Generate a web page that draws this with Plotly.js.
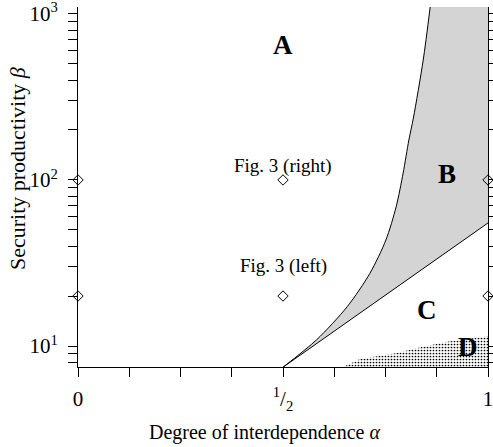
<!DOCTYPE html>
<html><head><meta charset="utf-8">
<script src="https://cdn.plot.ly/plotly-3.0.1.min.js"></script>
<style>html,body{margin:0;padding:0;background:#fff}#plot{width:493px;height:447px}</style>
</head><body><div id="plot"></div>
<script>
// Boundary A/B (upper curve)
const upperAlpha = [0.5, 0.582, 0.657, 0.712, 0.751, 0.776, 0.793, 0.807, 0.818, 0.842, 0.859];
const upperBeta  = [7.45, 10.9, 17.3, 27.4, 43.5, 69, 110, 174, 236, 528, 1101];
// Boundary B/C (lower line)
const lowerAlpha = [0.5, 0.75, 1];
const lowerBeta  = [7.45, 20.3, 55.1];
// Region D upper boundary
const dAlpha = [0.646, 0.688, 0.778, 0.827, 0.9, 0.98, 1];
const dBeta  = [7.47, 8.35, 9.07, 9.73, 10.6, 11.3, 11.5];
// Marked parameter points
const ptAlpha = [0, 0, 0.5, 0.5, 1, 1];
const ptBeta  = [20, 100, 20, 100, 20, 100];
// Region labels
const regionNames = ["A", "B", "C", "D"];
const regionAlpha = [0.5, 0.9, 0.851, 0.95];
const regionBeta  = [650, 108, 16.5, 9.86];
// Point annotations
const noteText  = ["Fig. 3 (right)", "Fig. 3 (left)"];
const noteAlpha = [0.5, 0.5];
const noteBeta  = [100, 20];
// Axis titles
const xTitle = "Degree of interdependence <i>α</i>";
const yTitle = "Security productivity <i>β</i>";
// Ticks
const xTickVals = [0, 0.125, 0.25, 0.375, 0.5, 0.625, 0.75, 0.875, 1];
const xTickText = ["0", "", "", "", "<sup>1</sup>/<sub>2</sub>", "", "", "", "1"];
const yMajor = [10, 100, 1000];
const yMajorText = ["10<sup>1</sup>", "10<sup>2</sup>", "10<sup>3</sup>"];

const yTickVals = [], yTickText = [];
[1, 10, 100].forEach(dec => {
  for (let m = 1; m <= 9; m++) {
    const v = dec * m;
    if (v < 7.5) continue;
    yTickVals.push(v);
    const k = yMajor.indexOf(v);
    yTickText.push(k >= 0 ? yMajorText[k] : "");
  }
});
yTickVals.push(1000); yTickText.push(yMajorText[2]);

const yTop = upperBeta[upperBeta.length - 1];
const yBottom = 7.0;
const serif = "Liberation Serif, serif";

const traces = [
  // hidden outline: lower line then up the right edge (used by the B fill)
  {x: lowerAlpha.concat([1]), y: lowerBeta.concat([yTop]),
   mode: "lines", line: {width: 0, color: "rgba(0,0,0,0)"}, hoverinfo: "skip"},
  // upper curve, filling region B against the outline
  {x: upperAlpha, y: upperBeta, mode: "lines", fill: "tonexty", fillcolor: "#d4d4d4",
   line: {color: "#000", width: 1, shape: "spline", smoothing: 0.8}, hoverinfo: "skip"},
  // region D stipple
  {x: [].concat([dAlpha[0]], dAlpha, [1]), y: [].concat([yBottom], dBeta, [yBottom]),
   mode: "lines", fill: "toself", fillcolor: "rgba(0,0,0,0)",
   fillpattern: {shape: ".", size: 3, solidity: 0.26, fgcolor: "#000", bgcolor: "rgba(0,0,0,0)"},
   line: {width: 0}, hoverinfo: "skip"},
  // lower line
  {x: lowerAlpha, y: lowerBeta, mode: "lines", line: {color: "#000", width: 1}},
  // points
  {x: ptAlpha, y: ptBeta, mode: "markers", cliponaxis: false,
   marker: {symbol: "diamond-open", size: 8, color: "#000", line: {width: 1, color: "#000"}}}
];

const noteShift = [14, 30];
const annotations = [];
regionNames.forEach((t, i) => annotations.push({
  x: regionAlpha[i], y: Math.log10(regionBeta[i]), xref: "x", yref: "y",
  text: "<b>" + t + "</b>", showarrow: false, font: {family: serif, size: 27, color: "#000"}
}));
noteText.forEach((t, i) => annotations.push({
  x: noteAlpha[i], y: Math.log10(noteBeta[i]), xref: "x", yref: "y",
  text: t, showarrow: false, yshift: noteShift[i], font: {family: serif, size: 19, color: "#000"}
}));
annotations.push({x: 0.4537, y: -0.1806, xref: "paper", yref: "paper", xanchor: "center", yanchor: "middle",
  text: xTitle, showarrow: false, font: {family: serif, size: 20, color: "#000"}});
annotations.push({x: -0.1463, y: 0.55, xref: "paper", yref: "paper", xanchor: "center", yanchor: "middle",
  text: yTitle, textangle: -90, showarrow: false, font: {family: serif, size: 22, color: "#000"}});

const layout = {
  width: 493, height: 447,
  margin: {l: 78, r: 5, t: 7, b: 80},
  paper_bgcolor: "#fff", plot_bgcolor: "#fff",
  showlegend: false,
  font: {family: serif, color: "#000"},
  xaxis: {
    range: [0, 1], tickvals: xTickVals, ticktext: xTickText,
    ticks: "outside", ticklen: 9, tickwidth: 1, tickcolor: "#000",
    showline: true, linecolor: "#000", linewidth: 1, mirror: false,
    showgrid: false, zeroline: false, ticklabelstandoff: 4, ticklabeloverflow: "allow",
    tickfont: {family: serif, size: 21, color: "#000"}
  },
  yaxis: {
    type: "log", range: [0.8735, Math.log10(yTop)], tickvals: yTickVals, ticktext: yTickText,
    ticks: "outside", ticklen: 9, tickwidth: 1, tickcolor: "#000",
    showline: true, linecolor: "#000", linewidth: 1, mirror: "ticks",
    showgrid: false, zeroline: false, ticklabelstandoff: 6, ticklabeloverflow: "allow",
    tickfont: {family: serif, size: 21, color: "#000"}
  },
  annotations: annotations
};

Plotly.newPlot("plot", traces, layout, {staticPlot: true, displayModeBar: false});
</script></body></html>
